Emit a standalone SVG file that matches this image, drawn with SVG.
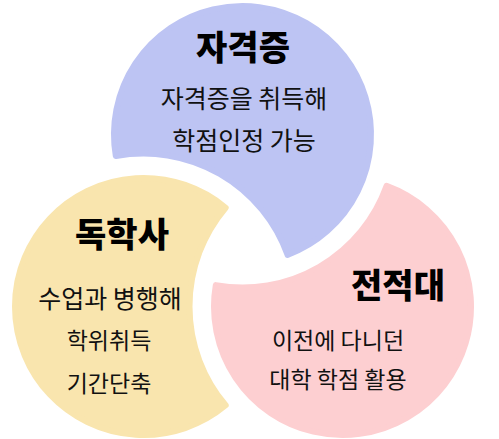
<svg xmlns="http://www.w3.org/2000/svg" width="499" height="439" viewBox="0 0 499 439">
  <style>
    .shape { stroke-width: 6; stroke-linejoin: round; }
    .title { font-family: "Noto Sans CJK KR", "Noto Sans", sans-serif; font-weight: 900; font-size: 34px; fill: #000; text-anchor: middle; }
    .body { font-family: "Noto Sans CJK KR", "Noto Sans", sans-serif; font-weight: 400; font-size: 23px; fill: #111; text-anchor: middle; }
    .big { font-size: 25px; }
  </style>
  <rect width="499" height="439" fill="#ffffff"/>
  <g id="node-certificate">
    <path class="shape" fill="#bdc4f3" stroke="#bdc4f3" d="M115.81,156.03 A128.5,128.5 0 1 1 287.53,254.85 A153,153 0 0 0 115.81,156.03 Z"/>
    <text class="title" x="243" y="60">자격증</text>
    <text class="body big" x="244" y="108">자격증을 취득해</text>
    <text class="body big" x="244" y="150">학점인정 가능</text>
  </g>
  <g id="node-selfstudy">
    <path class="shape" fill="#f9e5ae" stroke="#f9e5ae" d="M225.67,207.71 A128.5,128.5 0 1 0 225.67,405.29 A153,153 0 0 1 225.67,207.71 Z"/>
    <text class="title" x="122" y="247">독학사</text>
    <text class="body big" x="110" y="308">수업과 병행해</text>
    <text class="body" x="109" y="349">학위취득</text>
    <text class="body" x="109" y="392">기간단축</text>
  </g>
  <g id="node-transfer">
    <path class="shape" fill="#fdcfd1" stroke="#fdcfd1" d="M386.63,185.82 A128.5,128.5 0 1 1 215.79,285.14 A153,153 0 0 0 386.63,185.82 Z"/>
    <text class="title" x="398" y="298">전적대</text>
    <text class="body" x="338" y="349">이전에 다니던</text>
    <text class="body" x="338" y="388">대학 학점 활용</text>
  </g>
  <g id="connectors"></g>
</svg>
